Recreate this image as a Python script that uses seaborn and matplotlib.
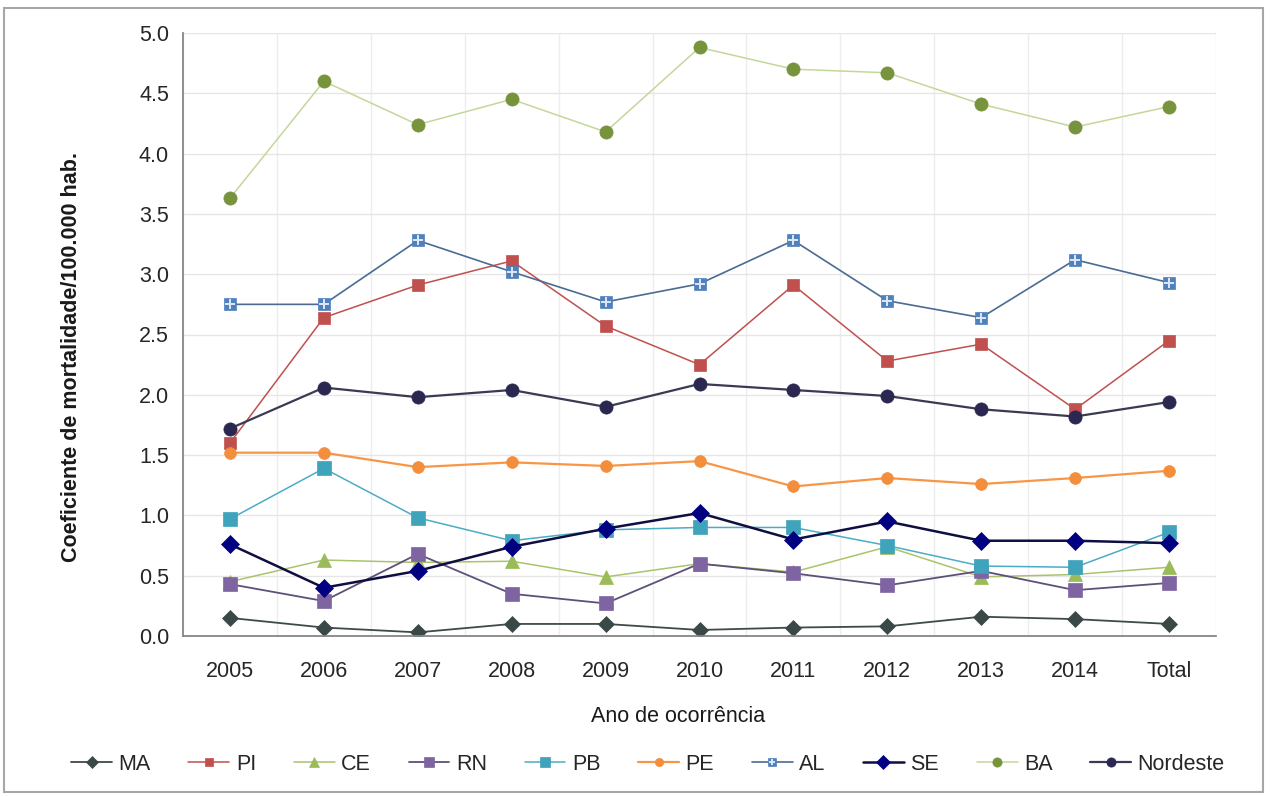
import matplotlib
matplotlib.use("Agg")
import matplotlib.pyplot as plt
from matplotlib.patches import Rectangle
from matplotlib.legend_handler import HandlerTuple
import seaborn as sns
import pandas as pd

# Categories on the x axis
anos = ["2005", "2006", "2007", "2008", "2009", "2010", "2011", "2012", "2013", "2014", "Total"]

# Mortality coefficient per 100,000 inhabitants, by state
MA = [0.15, 0.07, 0.03, 0.10, 0.10, 0.05, 0.07, 0.08, 0.16, 0.14, 0.10]
PI = [1.60, 2.64, 2.91, 3.11, 2.57, 2.25, 2.91, 2.28, 2.42, 1.88, 2.45]
CE = [0.45, 0.63, 0.61, 0.62, 0.49, 0.60, 0.53, 0.74, 0.49, 0.51, 0.57]
RN = [0.43, 0.29, 0.68, 0.35, 0.27, 0.60, 0.52, 0.42, 0.54, 0.38, 0.44]
PB = [0.97, 1.39, 0.98, 0.79, 0.88, 0.90, 0.90, 0.75, 0.58, 0.57, 0.86]
PE = [1.52, 1.52, 1.40, 1.44, 1.41, 1.45, 1.24, 1.31, 1.26, 1.31, 1.37]
AL = [2.75, 2.75, 3.28, 3.02, 2.77, 2.92, 3.28, 2.78, 2.64, 3.12, 2.93]
SE = [0.76, 0.40, 0.54, 0.74, 0.89, 1.02, 0.80, 0.95, 0.79, 0.79, 0.77]
BA = [3.63, 4.60, 4.24, 4.45, 4.18, 4.88, 4.70, 4.67, 4.41, 4.22, 4.39]
Nordeste = [1.72, 2.06, 1.98, 2.04, 1.90, 2.09, 2.04, 1.99, 1.88, 1.82, 1.94]

series = {"MA": MA, "PI": PI, "CE": CE, "RN": RN, "PB": PB,
          "PE": PE, "AL": AL, "SE": SE, "BA": BA, "Nordeste": Nordeste}

rows = []
for nome, valores in series.items():
    for i, (ano, v) in enumerate(zip(anos, valores)):
        rows.append({"serie": nome, "pos": i, "ano": ano, "valor": v})
df = pd.DataFrame(rows)

# line colour, marker colour, marker shape, marker size, line width
estilos = {
    "MA":       ("#3F4A4A", "#3A4848", "D", 8.5, 1.3),
    "PI":       ("#C0504D", "#C0504D", "s", 9.0, 1.1),
    "CE":       ("#A9C46C", "#9BBB59", "^", 9.5, 1.1),
    "RN":       ("#5E5078", "#7F64A2", "s", 9.5, 1.3),
    "PB":       ("#4BACC6", "#3FA3BC", "s", 9.5, 1.1),
    "PE":       ("#F79646", "#F28E3C", "o", 8.5, 1.6),
    "AL":       ("#4A6B92", "#4F81BD", "s", 9.0, 1.2),
    "SE":       ("#0E0E40", "#000080", "D", 9.5, 1.8),
    "BA":       ("#C4D79B", "#77933C", "o", 9.5, 1.1),
    "Nordeste": ("#3A3A52", "#2A2850", "o", 9.5, 1.6),
}

sns.set_theme(style="white")
plt.rcParams["font.family"] = ["Liberation Sans", "DejaVu Sans"]

W, H = 1271, 796
fig = plt.figure(figsize=(W / 100, H / 100), dpi=100)
ax = fig.add_axes([183 / W, (H - 636) / H, (1216 - 183) / W, (636 - 33) / H])

handles = []
for nome in series:
    lc, mc, mk, ms, lw = estilos[nome]
    sub = df[df["serie"] == nome]
    sns.lineplot(data=sub, x="pos", y="valor", ax=ax, color=lc, linewidth=lw,
                 marker=mk, markersize=ms, markerfacecolor=mc,
                 markeredgecolor=mc, markeredgewidth=0.5, legend=False)
    linha = ax.lines[-1]
    if nome == "AL":
        # white cross inside the square markers
        sns.lineplot(data=sub, x="pos", y="valor", ax=ax, linestyle="",
                     marker="+", markersize=7, color="#DDE8F5",
                     markeredgecolor="#DDE8F5", markeredgewidth=1.4, legend=False)
        handles.append((linha, ax.lines[-1]))
    else:
        handles.append(linha)

ax.set_xlim(-0.5, len(anos) - 0.5)
ax.set_ylim(0, 5)
ax.set_yticks([i * 0.5 for i in range(11)])
ax.set_yticklabels([f"{i * 0.5:.1f}" for i in range(11)])
ax.set_xticks(range(len(anos)))
ax.set_xticklabels(anos)
ax.set_xticks([i - 0.5 for i in range(len(anos) + 1)], minor=True)

ax.tick_params(axis="x", which="major", length=0, pad=18, labelsize=15.5, colors="#262626")
ax.tick_params(axis="x", which="minor", length=5, width=1.0, color="#868686", direction="out")
ax.tick_params(axis="y", which="major", length=7, width=1.0, color="#868686",
               direction="out", pad=3, labelsize=15.5, labelcolor="#262626")
ax.tick_params(axis="x", which="major", bottom=True)

ax.grid(False)
ax.yaxis.grid(True, color="#E6E6E6", linewidth=1.0)
ax.xaxis.grid(True, which="minor", color="#EDEDED", linewidth=1.0)
ax.set_axisbelow(True)
for s in ("top", "right"):
    ax.spines[s].set_visible(False)
for s in ("left", "bottom"):
    ax.spines[s].set_color("#868686")
    ax.spines[s].set_linewidth(1.3)
ax.set_xlabel("")
ax.set_ylabel("")

fig.text(72 / W, 1 - 357 / H, "Coeficiente de mortalidade/100.000 hab.",
         rotation=90, ha="center", va="center", fontsize=15.5,
         fontweight="bold", color="#1A1A1A")
fig.text(678 / W, 1 - 716 / H, "Ano de ocorrência", ha="center", va="center",
         fontsize=15.5, color="#1A1A1A")

fig.legend(handles, list(series.keys()), loc="center", ncol=10,
           bbox_to_anchor=(648 / W, 1 - 764 / H), frameon=False,
           fontsize=15.5, handlelength=1.9, handletextpad=0.3, markerscale=0.7,
           columnspacing=1.75, handler_map={tuple: HandlerTuple(ndivide=1, pad=0)})

fig.patches.append(Rectangle((4 / W, 4 / H), (1263 - 4) / W, (792 - 8) / H,
                             transform=fig.transFigure, fill=False,
                             edgecolor="#A6A6A6", linewidth=1.5))

fig.savefig("out.png", dpi=100)
